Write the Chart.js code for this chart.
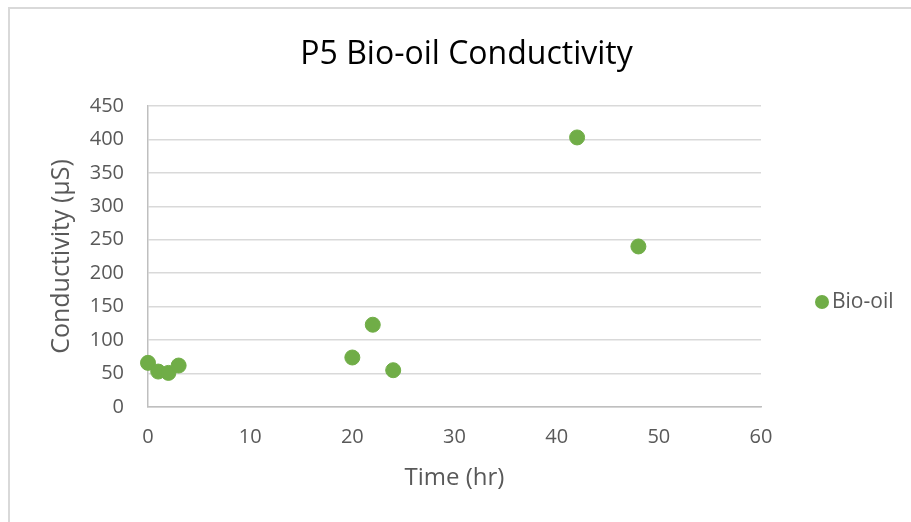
<!DOCTYPE html>
<html>
<head>
<meta charset="utf-8">
<script src="https://cdn.jsdelivr.net/npm/chart.js@4.4.0/dist/chart.umd.min.js"></script>
<style>
  body { margin: 0; background: #fff; }
  #marco { position: absolute; left: 8px; top: 7px; width: 1000px; height: 600px;
           border-left: 2px solid #d9d9d9; border-top: 2px solid #d9d9d9; box-sizing: border-box; }
  #caja { position: absolute; left: 0; top: 0; width: 911px; height: 522px; }
</style>
</head>
<body>
<div id="marco"></div>
<div id="caja"><canvas id="grafico" width="911" height="522"></canvas></div>
<script>
const tiempos = [0, 1, 2, 3, 20, 22, 24, 42, 48]
const conductividad = [66, 53, 51, 62, 74, 123, 55, 403, 240]
const ticksX = [0, 10, 20, 30, 40, 50, 60]
const ticksY = [0, 50, 100, 150, 200, 250, 300, 350, 400, 450]

const puntos = tiempos.map((t, i) => ({ x: t, y: conductividad[i] }))
const gris = "#595959"
const fuente = "'Open Sans', sans-serif"

// leyenda a mano, Chart.js no la deja donde la pone Excel
const leyendaPropia = {
    id: "leyendaPropia",
    afterDraw(chart) {
        const ctx = chart.ctx
        const ds = chart.data.datasets[0]
        ctx.save()
        ctx.fillStyle = ds.backgroundColor
        ctx.beginPath()
        ctx.arc(822, 302, 7, 0, Math.PI * 2)
        ctx.fill()
        ctx.fillStyle = gris
        ctx.font = "21px " + fuente
        ctx.textBaseline = "middle"
        ctx.fillText(ds.label, 832, 302)
        ctx.restore()
    }
}

new Chart(document.getElementById("grafico"), {
    type: "scatter",
    data: {
        datasets: [{
            label: "Bio-oil",
            data: puntos,
            backgroundColor: "#70ad47",
            borderColor: "#70ad47",
            pointRadius: 7.5,
            pointHoverRadius: 7.5,
            clip: false
        }]
    },
    options: {
        responsive: false,
        animation: false,
        layout: { padding: { left: 22, top: 0, right: 0, bottom: 8 } },
        plugins: {
            legend: { display: false },
            tooltip: { enabled: false },
            title: {
                display: true,
                text: "P5 Bio-oil Conductivity",
                color: "#000",
                font: { family: fuente, size: 32, weight: "normal" },
                padding: { top: 36, bottom: 31.6 }
            }
        },
        scales: {
            x: {
                type: "linear",
                min: 0,
                max: 60,
                afterBuildTicks: s => { s.ticks = ticksX.map(v => ({ value: v })) },
                afterFit: s => { s.height = 522 - 407 - 8 },
                grid: { display: false, drawTicks: false },
                border: { color: "#bfbfbf", width: 1.5 },
                ticks: { color: gris, font: { family: fuente, size: 20 }, padding: 18 },
                title: {
                    display: true,
                    text: "Time (hr)",
                    color: gris,
                    font: { family: fuente, size: 24 },
                    padding: { top: 21.6, bottom: 21.6 }
                }
            },
            y: {
                min: 0,
                max: 450,
                afterBuildTicks: s => { s.ticks = ticksY.map(v => ({ value: v })) },
                afterFit: s => { s.width = 148 - 22 },
                grid: { color: "#d9d9d9", lineWidth: 1.5, drawTicks: false },
                border: { color: "#bfbfbf", width: 1.5 },
                ticks: { color: gris, font: { family: fuente, size: 20 }, padding: 24 },
                title: {
                    display: true,
                    text: "Conductivity (µS)",
                    color: gris,
                    font: { family: fuente, size: 25 },
                    padding: { top: 25, bottom: 25 }
                }
            },
            // eje vacio a la derecha, solo para dejar sitio a la leyenda
            derecha: {
                type: "linear",
                position: "right",
                afterFit: s => { s.width = 911 - 761 },
                grid: { display: false },
                border: { display: false },
                ticks: { display: false }
            }
        }
    },
    plugins: [leyendaPropia]
})
</script>
</body>
</html>
